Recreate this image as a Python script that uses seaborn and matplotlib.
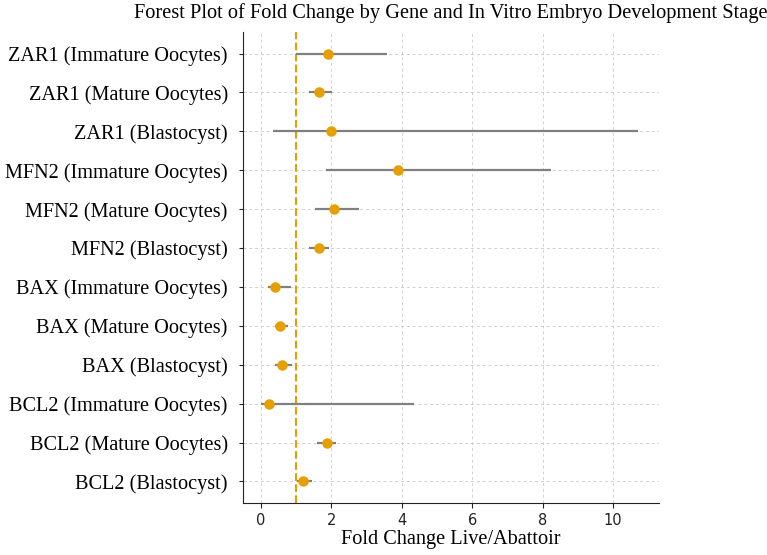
import numpy as np
import matplotlib
matplotlib.use("Agg")
import matplotlib.pyplot as plt
import seaborn as sns
import pandas as pd

# fold change (live / abattoir) with confidence intervals
labels = [
    "ZAR1 (Immature Oocytes)", "ZAR1 (Mature Oocytes)", "ZAR1 (Blastocyst)",
    "MFN2 (Immature Oocytes)", "MFN2 (Mature Oocytes)", "MFN2 (Blastocyst)",
    "BAX (Immature Oocytes)", "BAX (Mature Oocytes)", "BAX (Blastocyst)",
    "BCL2 (Immature Oocytes)", "BCL2 (Mature Oocytes)", "BCL2 (Blastocyst)",
]
fold_change = [1.90, 1.66, 1.99, 3.90, 2.07, 1.64, 0.41, 0.55, 0.59, 0.23, 1.87, 1.21]
ci_low = [1.00, 1.37, 0.36, 1.84, 1.53, 1.38, 0.21, 0.40, 0.40, 0.01, 1.61, 1.02]
ci_high = [3.59, 2.03, 10.71, 8.24, 2.79, 1.93, 0.85, 0.76, 0.90, 4.34, 2.15, 1.45]

df = pd.DataFrame({"label": labels, "fc": fold_change, "lo": ci_low, "hi": ci_high})

sns.set_style("ticks")
plt.rcParams["font.family"] = ["DejaVu Sans"]
serif = ["Liberation Serif", "DejaVu Serif"]

fig = plt.figure(figsize=(7.67, 5.55), dpi=100)
ax = fig.add_axes([0.317, 0.094, 0.542, 0.848])

orange = "#E69F00"

ax.hlines(np.arange(len(df)), df["lo"], df["hi"], color="#808080", lw=1.6, zorder=2)
sns.pointplot(data=df, x="fc", y="label", order=labels, linestyle="none",
              color=orange, markersize=5.5, errorbar=None, ax=ax, zorder=3)
ax.axvline(1, color=orange, ls="--", lw=1.5, zorder=1)

ax.grid(True, ls=(0, (3, 3)), color="#d0d0d0", lw=0.7)
ax.set_axisbelow(True)
sns.despine(ax=ax)
for s in ("left", "bottom"):
    ax.spines[s].set_color("#222222")

ax.set_xlim(-0.5, 11.3)
ax.set_ylim(len(df) - 0.45, -0.55)
ax.set_xticks([0, 2, 4, 6, 8, 10])
ax.tick_params(axis="x", labelsize=10.5, colors="#222222", labelcolor="#222222")
ax.tick_params(axis="y", length=3, pad=8, labelcolor="black")
for t in ax.get_yticklabels():
    t.set_fontfamily(serif)
    t.set_fontsize(14.6)
ax.set_ylabel("")
ax.set_xlabel("Fold Change Live/Abattoir", fontfamily=serif, fontsize=14.6,
              color="black", labelpad=2)
ax.set_title("Forest Plot of Fold Change by Gene and In Vitro Embryo Development Stage",
             fontfamily=serif, fontsize=14.7, pad=10, color="black")

fig.savefig("out.png", dpi=100)
